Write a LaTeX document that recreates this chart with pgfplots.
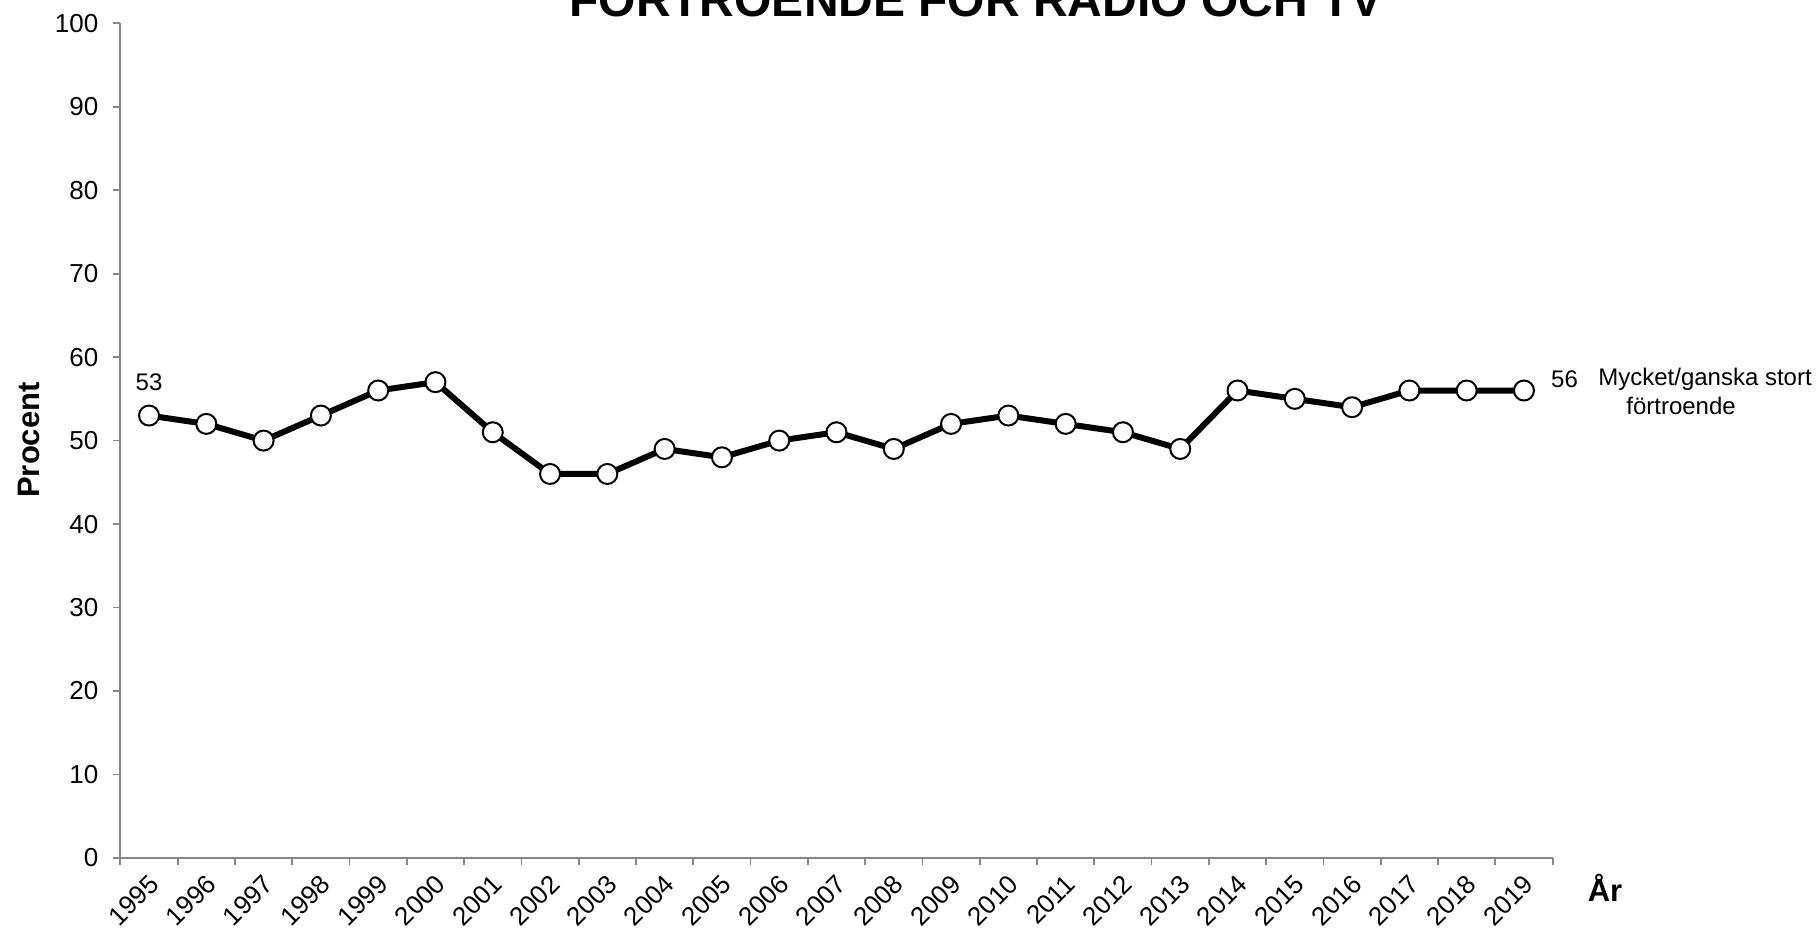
\documentclass[border=0pt]{standalone}
\usepackage{pgfplots}
\pgfplotsset{compat=1.18}
\usepackage{fontspec}
\setmainfont{Liberation Sans}
\definecolor{axgray}{HTML}{878787}
\begin{document}
\begin{tikzpicture}
\begin{axis}[
  at={(0,0)}, anchor=south west,
  scale only axis, width=716.1pt, height=417.4pt,
  xmin=-0.5, xmax=24.5, ymin=0, ymax=100,
  axis lines=left, axis line style={-, draw=axgray, line width=0.9pt},
  xtick={0,...,24},
  xticklabels={1995,1996,1997,1998,1999,2000,2001,2002,2003,2004,2005,2006,2007,2008,2009,2010,2011,2012,2013,2014,2015,2016,2017,2018,2019},
  minor xtick={-0.5,0.5,...,24.5},
  major x tick style={draw=none},
  minor x tick style={draw=axgray, line width=0.9pt},
  ytick={0,10,...,100},
  y tick style={draw=axgray, line width=0.9pt},
  tick align=outside,
  major tick length=3.5pt, minor tick length=3.7pt,
  /pgf/number format/assume math mode=true,
  tick label style={font=\fontsize{13}{15}\selectfont, black},
  yticklabel style={xshift=-4pt},
  xticklabel style={rotate=45, anchor=east, xshift=0pt, yshift=-7pt},
  clip=false,
]
\addplot[black, line width=3pt, mark=*, mark size=5pt,
  mark options={fill=white, draw=black, line width=1pt}]
  coordinates {
  (0,53) (1,52) (2,50) (3,53) (4,56) (5,57) (6,51) (7,46) (8,46) (9,49)
  (10,48) (11,50) (12,51) (13,49) (14,52) (15,53) (16,52) (17,51) (18,49)
  (19,56) (20,55) (21,54) (22,56) (23,56) (24,56)};
\node[font=\fontsize{12}{14}\selectfont] at (axis cs:0,53) [yshift=16.8pt] {53};
\node[font=\fontsize{12}{14}\selectfont] at (axis cs:24,56) [xshift=20.3pt, yshift=5.8pt] {56};
\node[font=\fontsize{12}{14}\selectfont, anchor=west, inner sep=0pt] at (axis cs:24,56) [xshift=37pt, yshift=5.8pt] {Mycket/ganska stort};
\node[font=\fontsize{12}{14}\selectfont, anchor=west, inner sep=0pt] at (axis cs:24,56) [xshift=51pt, yshift=-7.5pt] {förtroende};
\end{axis}
\node[font=\fontsize{24}{28}\selectfont\bfseries, anchor=base] at (427.8pt,420.9pt) {FÖRTROENDE FÖR RADIO OCH TV};
\node[font=\fontsize{15.5}{18}\selectfont\bfseries, rotate=90] at (-45.7pt,209pt) {Procent};
\node[font=\fontsize{15.5}{18}\selectfont\bfseries] at (742.3pt,-15pt) {År};
\pgfresetboundingbox
\path[use as bounding box] (-60.2pt,-37pt) rectangle (847.8pt,429pt);
\end{tikzpicture}
\end{document}
